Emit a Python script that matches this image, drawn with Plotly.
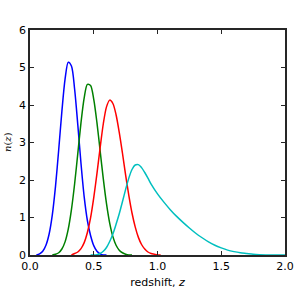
import plotly.graph_objects as go

# redshift grids and n(z) values
z_blue = [0.05, 0.075, 0.10, 0.125, 0.15, 0.175, 0.20, 0.225, 0.25, 0.275, 0.30, 0.325,
          0.35, 0.375, 0.40, 0.425, 0.45, 0.475, 0.50, 0.525, 0.55, 0.575, 0.60]
n_blue = [0.0, 0.03, 0.10, 0.26, 0.56, 1.07, 1.83, 2.80, 3.83, 4.69, 5.14, 5.04,
          4.42, 3.47, 2.44, 1.55, 0.92, 0.52, 0.25, 0.10, 0.03, 0.0, 0.0]

z_green = [0.175, 0.20, 0.225, 0.25, 0.275, 0.30, 0.325, 0.35, 0.375, 0.40, 0.425, 0.45,
           0.475, 0.50, 0.525, 0.55, 0.575, 0.60, 0.625, 0.65, 0.675, 0.70, 0.725, 0.75, 0.775, 0.80]
n_green = [0.0, 0.02, 0.06, 0.16, 0.35, 0.69, 1.21, 1.90, 2.71, 3.53, 4.19, 4.55,
           4.52, 4.15, 3.53, 2.78, 2.03, 1.37, 0.85, 0.49, 0.26, 0.13, 0.06, 0.02, 0.0, 0.0]

z_red = [0.325, 0.35, 0.375, 0.40, 0.425, 0.45, 0.475, 0.50, 0.525, 0.55, 0.575, 0.60, 0.625,
         0.65, 0.675, 0.70, 0.725, 0.75, 0.775, 0.80, 0.825, 0.85, 0.875, 0.90, 0.925, 0.95,
         0.975, 1.0, 1.025]
n_red = [0.0, 0.04, 0.08, 0.17, 0.33, 0.60, 0.99, 1.53, 2.17, 2.86, 3.50, 3.95, 4.13,
         4.04, 3.74, 3.27, 2.72, 2.13, 1.59, 1.12, 0.75, 0.47, 0.28, 0.16, 0.08, 0.04,
         0.02, 0.0, 0.0]

z_cyan = [0.475, 0.50, 0.525, 0.55, 0.575, 0.60, 0.625, 0.65, 0.675, 0.70, 0.725, 0.75, 0.775,
          0.80, 0.825, 0.85, 0.875, 0.90, 0.925, 0.95, 1.0, 1.05, 1.10, 1.15, 1.20, 1.25,
          1.30, 1.35, 1.40, 1.45, 1.50, 1.55, 1.60, 1.65, 1.70, 1.75, 1.80, 1.90, 2.0]
n_cyan = [0.0, 0.0, 0.01, 0.04, 0.10, 0.20, 0.36, 0.56, 0.82, 1.10, 1.42, 1.75, 2.05,
          2.28, 2.40, 2.41, 2.33, 2.20, 2.05, 1.89, 1.63, 1.41, 1.21, 1.03, 0.87, 0.72,
          0.58, 0.46, 0.35, 0.26, 0.19, 0.13, 0.09, 0.06, 0.04, 0.02, 0.01, 0.0, 0.0]

x_ticks = [0.0, 0.5, 1.0, 1.5, 2.0]
x_tick_labels = ["0.0", "0.5", "1.0", "1.5", "2.0"]
y_ticks = [0, 1, 2, 3, 4, 5, 6]
y_tick_labels = ["0", "1", "2", "3", "4", "5", "6"]

series = [
    (z_blue, n_blue, "#0000ff"),
    (z_green, n_green, "#008000"),
    (z_red, n_red, "#ff0000"),
    (z_cyan, n_cyan, "#00bfbf"),
]

fig = go.Figure()
for zs, ns, col in series:
    fig.add_trace(go.Scatter(x=zs, y=ns, mode="lines",
                             line=dict(color=col, width=1.5, shape="spline", smoothing=0.8),
                             showlegend=False, hoverinfo="skip"))

axis_common = dict(showgrid=False, zeroline=False, showline=True, linecolor="#262626",
                   linewidth=1.5, mirror="allticks", ticks="inside", ticklen=4,
                   tickwidth=1, tickcolor="#262626", automargin=False,
                   tickfont=dict(family="DejaVu Sans", size=11, color="black"))

L, R, T, B = 30, 15, 30, 45
plot_w = 300 - L - R

fig.update_layout(
    width=300, height=300,
    margin=dict(l=L, r=R, t=T, b=B),
    paper_bgcolor="white", plot_bgcolor="white",
    xaxis=dict(range=[0, 2.0], tickvals=x_ticks, ticktext=x_tick_labels,
               title=dict(text="redshift, <i>z</i>", standoff=6,
                          font=dict(family="DejaVu Sans", size=11, color="black")),
               **axis_common),
    yaxis=dict(range=[0, 6], tickvals=y_ticks, ticktext=y_tick_labels, **axis_common),
    annotations=[dict(text="<i>n</i>(<i>z</i>)", xref="paper", yref="paper",
                      x=(7.5 - L) / plot_w, y=0.5, xanchor="center", yanchor="middle",
                      textangle=-90, showarrow=False,
                      font=dict(family="DejaVu Serif", size=10, color="black"))],
)

fig.write_html("out.html", config={"displayModeBar": False},
               post_script="document.body.style.margin='0';")
